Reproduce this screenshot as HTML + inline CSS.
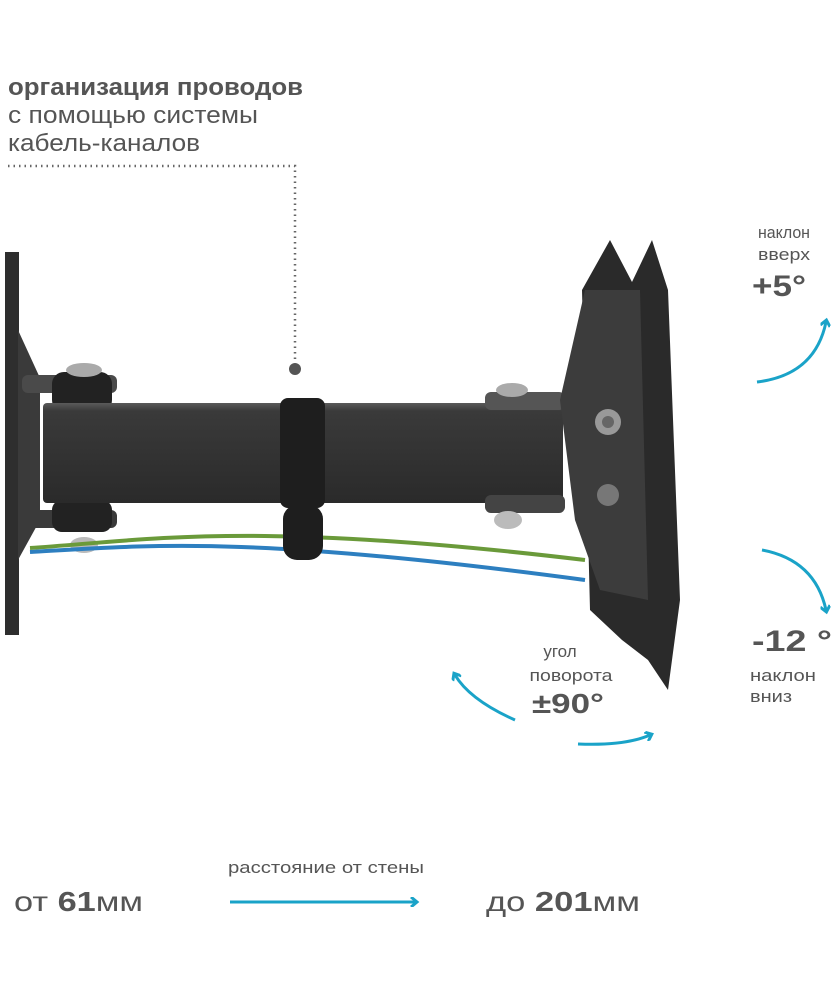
<!DOCTYPE html>
<html><head><meta charset="utf-8"><style>
body{margin:0;background:#fff;}
svg{display:block;}
text{font-family:"Liberation Sans","DejaVu Sans",sans-serif;fill:#555;}
</style></head><body>
<svg width="840" height="998" viewBox="0 0 840 998" xmlns="http://www.w3.org/2000/svg">
<defs>
<linearGradient id="arm" x1="0" y1="0" x2="0" y2="1">
<stop offset="0" stop-color="#5a5a5a"/><stop offset="0.08" stop-color="#3a3a3a"/><stop offset="1" stop-color="#2a2a2a"/>
</linearGradient>
<marker id="ah" markerWidth="10" markerHeight="10" refX="5" refY="5" orient="auto" markerUnits="userSpaceOnUse">
<path d="M1,0 L7,5 L1,10" fill="none" stroke="#1aa3c8" stroke-width="3"/>
</marker>
</defs>
<text x="8" y="95" font-size="24" font-weight="bold" fill="#555" textLength="295" lengthAdjust="spacingAndGlyphs">организация проводов</text>
<text x="8" y="123" font-size="24" fill="#666" textLength="250" lengthAdjust="spacingAndGlyphs">с помощью системы</text>
<text x="8" y="151" font-size="24" fill="#666" textLength="192" lengthAdjust="spacingAndGlyphs">кабель-каналов</text>
<path d="M8,166 H295 V360" fill="none" stroke="#666" stroke-width="2.5" stroke-dasharray="1.5,4"/>
<circle cx="295" cy="369" r="6" fill="#555"/>

<!-- wall plate -->
<rect x="5" y="252" width="14" height="383" fill="#2e2e2e"/>
<path d="M18,330 L40,378 L40,520 L18,560 Z" fill="#3a3a3a"/>
<rect x="22" y="375" width="95" height="18" rx="6" fill="#4a4a4a"/>
<rect x="22" y="510" width="95" height="18" rx="6" fill="#3a3a3a"/>
<rect x="52" y="372" width="60" height="40" rx="12" fill="#222"/>
<rect x="52" y="500" width="60" height="32" rx="10" fill="#222"/>
<ellipse cx="84" cy="370" rx="18" ry="7" fill="#aaa"/>
<ellipse cx="84" cy="545" rx="14" ry="8" fill="#bbb"/>
<!-- arm -->
<rect x="43" y="403" width="520" height="100" rx="4" fill="url(#arm)"/>
<!-- wires -->
<path d="M30,548 C150,540 250,520 585,560" fill="none" stroke="#6a9a3a" stroke-width="4"/>
<path d="M30,552 C150,545 250,535 585,580" fill="none" stroke="#2d7fc0" stroke-width="4"/>
<!-- clip -->
<rect x="280" y="398" width="45" height="110" rx="8" fill="#1e1e1e"/>
<rect x="283" y="505" width="40" height="55" rx="14" fill="#1e1e1e"/>
<!-- right hinge -->
<rect x="485" y="392" width="80" height="18" rx="6" fill="#555"/>
<rect x="485" y="495" width="80" height="18" rx="6" fill="#444"/>
<ellipse cx="512" cy="390" rx="16" ry="7" fill="#aaa"/>
<ellipse cx="508" cy="520" rx="14" ry="9" fill="#bbb"/>
<!-- monitor plate -->
<path d="M610,240 L632,282 L652,240 L668,290 L680,600 L668,690 L648,660 L622,640 L590,610 L582,290 Z" fill="#2a2a2a"/>
<path d="M585,290 L640,290 L648,600 L600,590 L575,520 L560,400 Z" fill="#3c3c3c"/>
<circle cx="608" cy="422" r="13" fill="#999"/><circle cx="608" cy="422" r="6" fill="#666"/>
<circle cx="608" cy="495" r="11" fill="#777"/>

<!-- arrows -->
<path d="M757,382 Q815,375 826,322" fill="none" stroke="#1aa3c8" stroke-width="3" marker-end="url(#ah)"/>
<path d="M762,550 Q815,560 826,610" fill="none" stroke="#1aa3c8" stroke-width="3" marker-end="url(#ah)"/>
<path d="M515,720 Q470,700 455,675" fill="none" stroke="#1aa3c8" stroke-width="3" marker-end="url(#ah)"/>
<path d="M578,744 Q625,746 650,735" fill="none" stroke="#1aa3c8" stroke-width="3" marker-end="url(#ah)"/>
<line x1="230" y1="902" x2="415" y2="902" stroke="#1aa3c8" stroke-width="3" marker-end="url(#ah)"/>

<text x="758" y="238" font-size="17" textLength="52" lengthAdjust="spacingAndGlyphs">наклон</text>
<text x="758" y="260" font-size="17" textLength="52" lengthAdjust="spacingAndGlyphs">вверх</text>
<text x="752" y="296" font-size="30" font-weight="bold" textLength="54" lengthAdjust="spacingAndGlyphs">+5°</text>
<text x="752" y="651" font-size="30" font-weight="bold" textLength="80" lengthAdjust="spacingAndGlyphs">-12 °</text>
<text x="750" y="681" font-size="17" textLength="66" lengthAdjust="spacingAndGlyphs">наклон</text>
<text x="750" y="702" font-size="17" textLength="42" lengthAdjust="spacingAndGlyphs">вниз</text>
<text x="560" y="657" font-size="17" text-anchor="middle">угол</text>
<text x="571" y="681" font-size="17" text-anchor="middle" textLength="83" lengthAdjust="spacingAndGlyphs">поворота</text>
<text x="568" y="713" font-size="28" font-weight="bold" text-anchor="middle" textLength="72" lengthAdjust="spacingAndGlyphs">±90°</text>

<text x="228" y="873" font-size="17" fill="#666" textLength="196" lengthAdjust="spacingAndGlyphs">расстояние от стены</text>
<text x="14" y="911" font-size="28" fill="#555" textLength="129" lengthAdjust="spacingAndGlyphs">от <tspan font-weight="bold">61</tspan>мм</text>
<text x="486" y="911" font-size="28" fill="#555" textLength="154" lengthAdjust="spacingAndGlyphs">до <tspan font-weight="bold">201</tspan>мм</text>
</svg>
</body></html>
